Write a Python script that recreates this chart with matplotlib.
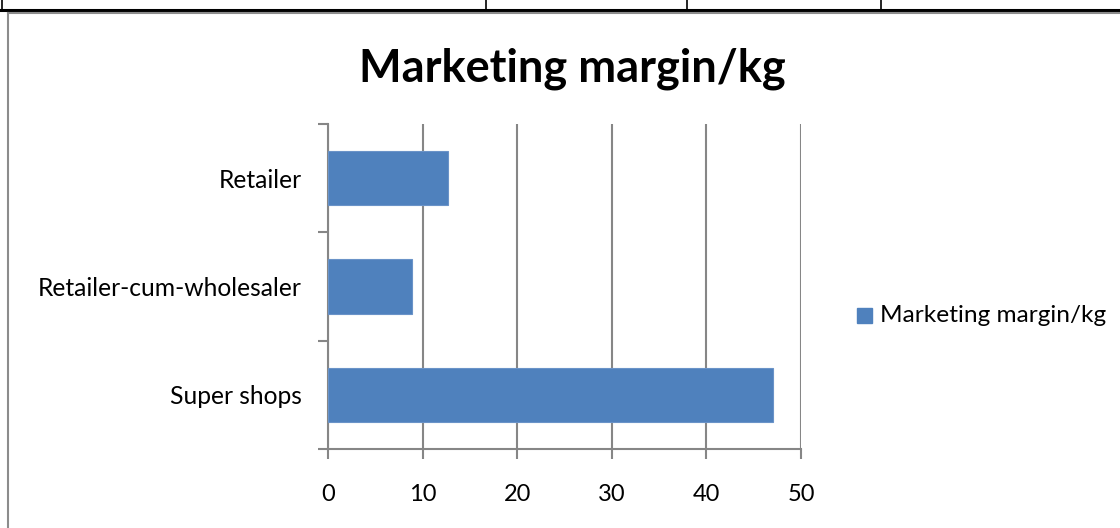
import matplotlib
matplotlib.use("Agg")
import matplotlib.pyplot as plt
from matplotlib.lines import Line2D
from matplotlib.patches import Rectangle

categories = ["Super shops", "Retailer-cum-wholesaler", "Retailer"]
values = [47.0, 8.9, 12.7]
x_ticks = [0, 10, 20, 30, 40, 50]
series_name = "Marketing margin/kg"
title = "Marketing margin/kg"

plt.rcParams['font.family'] = ['Lato', 'DejaVu Sans']

W, H = 1120, 528
fig = plt.figure(figsize=(W/100, H/100), dpi=100)
fig.patch.set_facecolor("white")

# partial table at top
fig.add_artist(Line2D([0, 1], [1-10/H, 1-10/H], color="black", lw=2.2, transform=fig.transFigure))
for px in [2, 486, 687, 881]:
    fig.add_artist(Line2D([px/W, px/W], [1-10/H, 1], color="black", lw=1.2, transform=fig.transFigure))
# chart border
fig.add_artist(Line2D([8/W, 8/W], [0, 1-13/H], color="#8c8c8c", lw=1.5, transform=fig.transFigure))
fig.add_artist(Line2D([8/W, 1], [1-13/H, 1-13/H], color="#8c8c8c", lw=1.5, transform=fig.transFigure))

ax = fig.add_axes([328/W, 1-449/H, (801-328)/W, (449-124)/H])
ypos = list(range(len(categories)))
ax.barh(ypos, values, height=0.5, color="#4F81BD", edgecolor="#6A93C8", linewidth=0.8, zorder=3)
ax.set_xlim(0, 50)
ax.set_ylim(-0.5, len(categories)-0.5)
ax.set_xticks(x_ticks)
ax.set_xticklabels([str(t) for t in x_ticks])
ax.set_yticks(ypos)
ax.set_yticklabels(categories)
ax.set_yticks([i-0.5 for i in range(len(categories)+1)], minor=True)
ax.grid(axis="x", color="#868686", lw=1.5, zorder=0)
for s in ["top", "right"]:
    ax.spines[s].set_visible(False)
for s in ["left", "bottom"]:
    ax.spines[s].set_color("#868686")
    ax.spines[s].set_linewidth(1.5)
ax.tick_params(axis="x", length=7, width=1.5, color="#868686", pad=18, labelsize=17, labelcolor="black")
ax.tick_params(axis="y", which="major", length=0, pad=19, labelsize=17.7, labelcolor="black")
ax.tick_params(axis="y", which="minor", length=7, width=1.5, color="#868686")

fig.text(572/W, 1-69/H, title, ha="center", va="center", fontsize=32.5, fontweight="bold")

fig.add_artist(Rectangle((857/W, 1-323/H), 15/W, 15/H, color="#4F81BD", transform=fig.transFigure))
fig.text(880/W, 1-316/H, series_name, ha="left", va="center", fontsize=17.6)

fig.savefig("out.png", dpi=100)
